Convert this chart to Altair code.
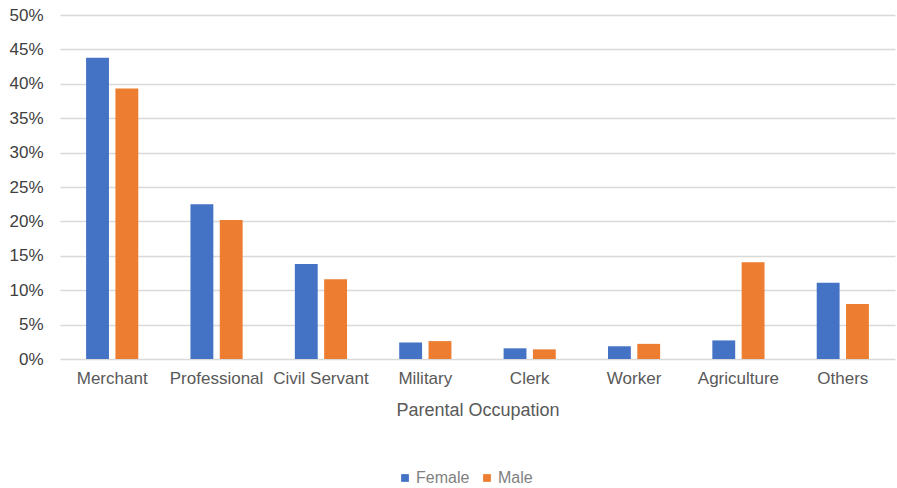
import altair as alt
import pandas as pd

# Share of students by parental occupation, split by gender
occupations = ["Merchant", "Professional", "Civil Servant", "Military",
               "Clerk", "Worker", "Agriculture", "Others"]
female = [0.438, 0.225, 0.138, 0.024, 0.0155, 0.0185, 0.027, 0.111]
male = [0.393, 0.202, 0.116, 0.026, 0.014, 0.022, 0.1405, 0.080]
genders = ["Female", "Male"]
colors = ["#4472C4", "#ED7D31"]
y_ticks = [0, 0.05, 0.10, 0.15, 0.20, 0.25, 0.30, 0.35, 0.40, 0.45, 0.50]

rows = []
for occ, f, m in zip(occupations, female, male):
    rows.append({"occupation": occ, "gender": "Female", "share": f})
    rows.append({"occupation": occ, "gender": "Male", "share": m})
df = pd.DataFrame(rows)

FONT = "Liberation Sans"

chart = (
    alt.Chart(df)
    .mark_bar()
    .encode(
        x=alt.X(
            "occupation:N",
            sort=occupations,
            scale=alt.Scale(paddingInner=0.5, paddingOuter=0.25),
            axis=alt.Axis(
                title="Parental Occupation",
                labelAngle=0,
                labelFontSize=17,
                labelColor="#595959",
                labelFont=FONT,
                labelPadding=11,
                titleFont=FONT,
                titleFontSize=18,
                titleFontWeight="normal",
                titleColor="#595959",
                titlePadding=15,
                ticks=False,
                domain=False,
                grid=False,
            ),
        ),
        xOffset=alt.XOffset(
            "gender:N",
            sort=genders,
            scale=alt.Scale(paddingInner=0.22, paddingOuter=0),
        ),
        y=alt.Y(
            "share:Q",
            scale=alt.Scale(domain=[0, 0.5], nice=False),
            axis=alt.Axis(
                title=None,
                values=y_ticks,
                format=".0%",
                labelFontSize=17,
                labelColor="#404040",
                labelFont=FONT,
                labelPadding=17,
                ticks=False,
                domain=False,
                gridColor="#d9d9d9",
                gridWidth=1.5,
            ),
        ),
        color=alt.Color(
            "gender:N",
            sort=genders,
            scale=alt.Scale(domain=genders, range=colors),
            legend=alt.Legend(
                title=None,
                orient="none",
                direction="horizontal",
                legendX=337,
                legendY=455,
                symbolType="square",
                symbolSize=60,
                symbolStrokeWidth=0,
                labelFont=FONT,
                labelFontSize=16,
                labelColor="#7f7f7f",
                labelOffset=3,
                columnPadding=9,
            ),
        ),
    )
    .properties(
        width=835,
        height=344,
        autosize=alt.AutoSizeParams(type="none"),
        padding={"left": 60, "top": 15, "right": 2, "bottom": 129},
    )
    .configure(background="white")
    .configure_view(stroke=None)
)

chart.save("out.html", embed_options={"renderer": "svg", "actions": False})
